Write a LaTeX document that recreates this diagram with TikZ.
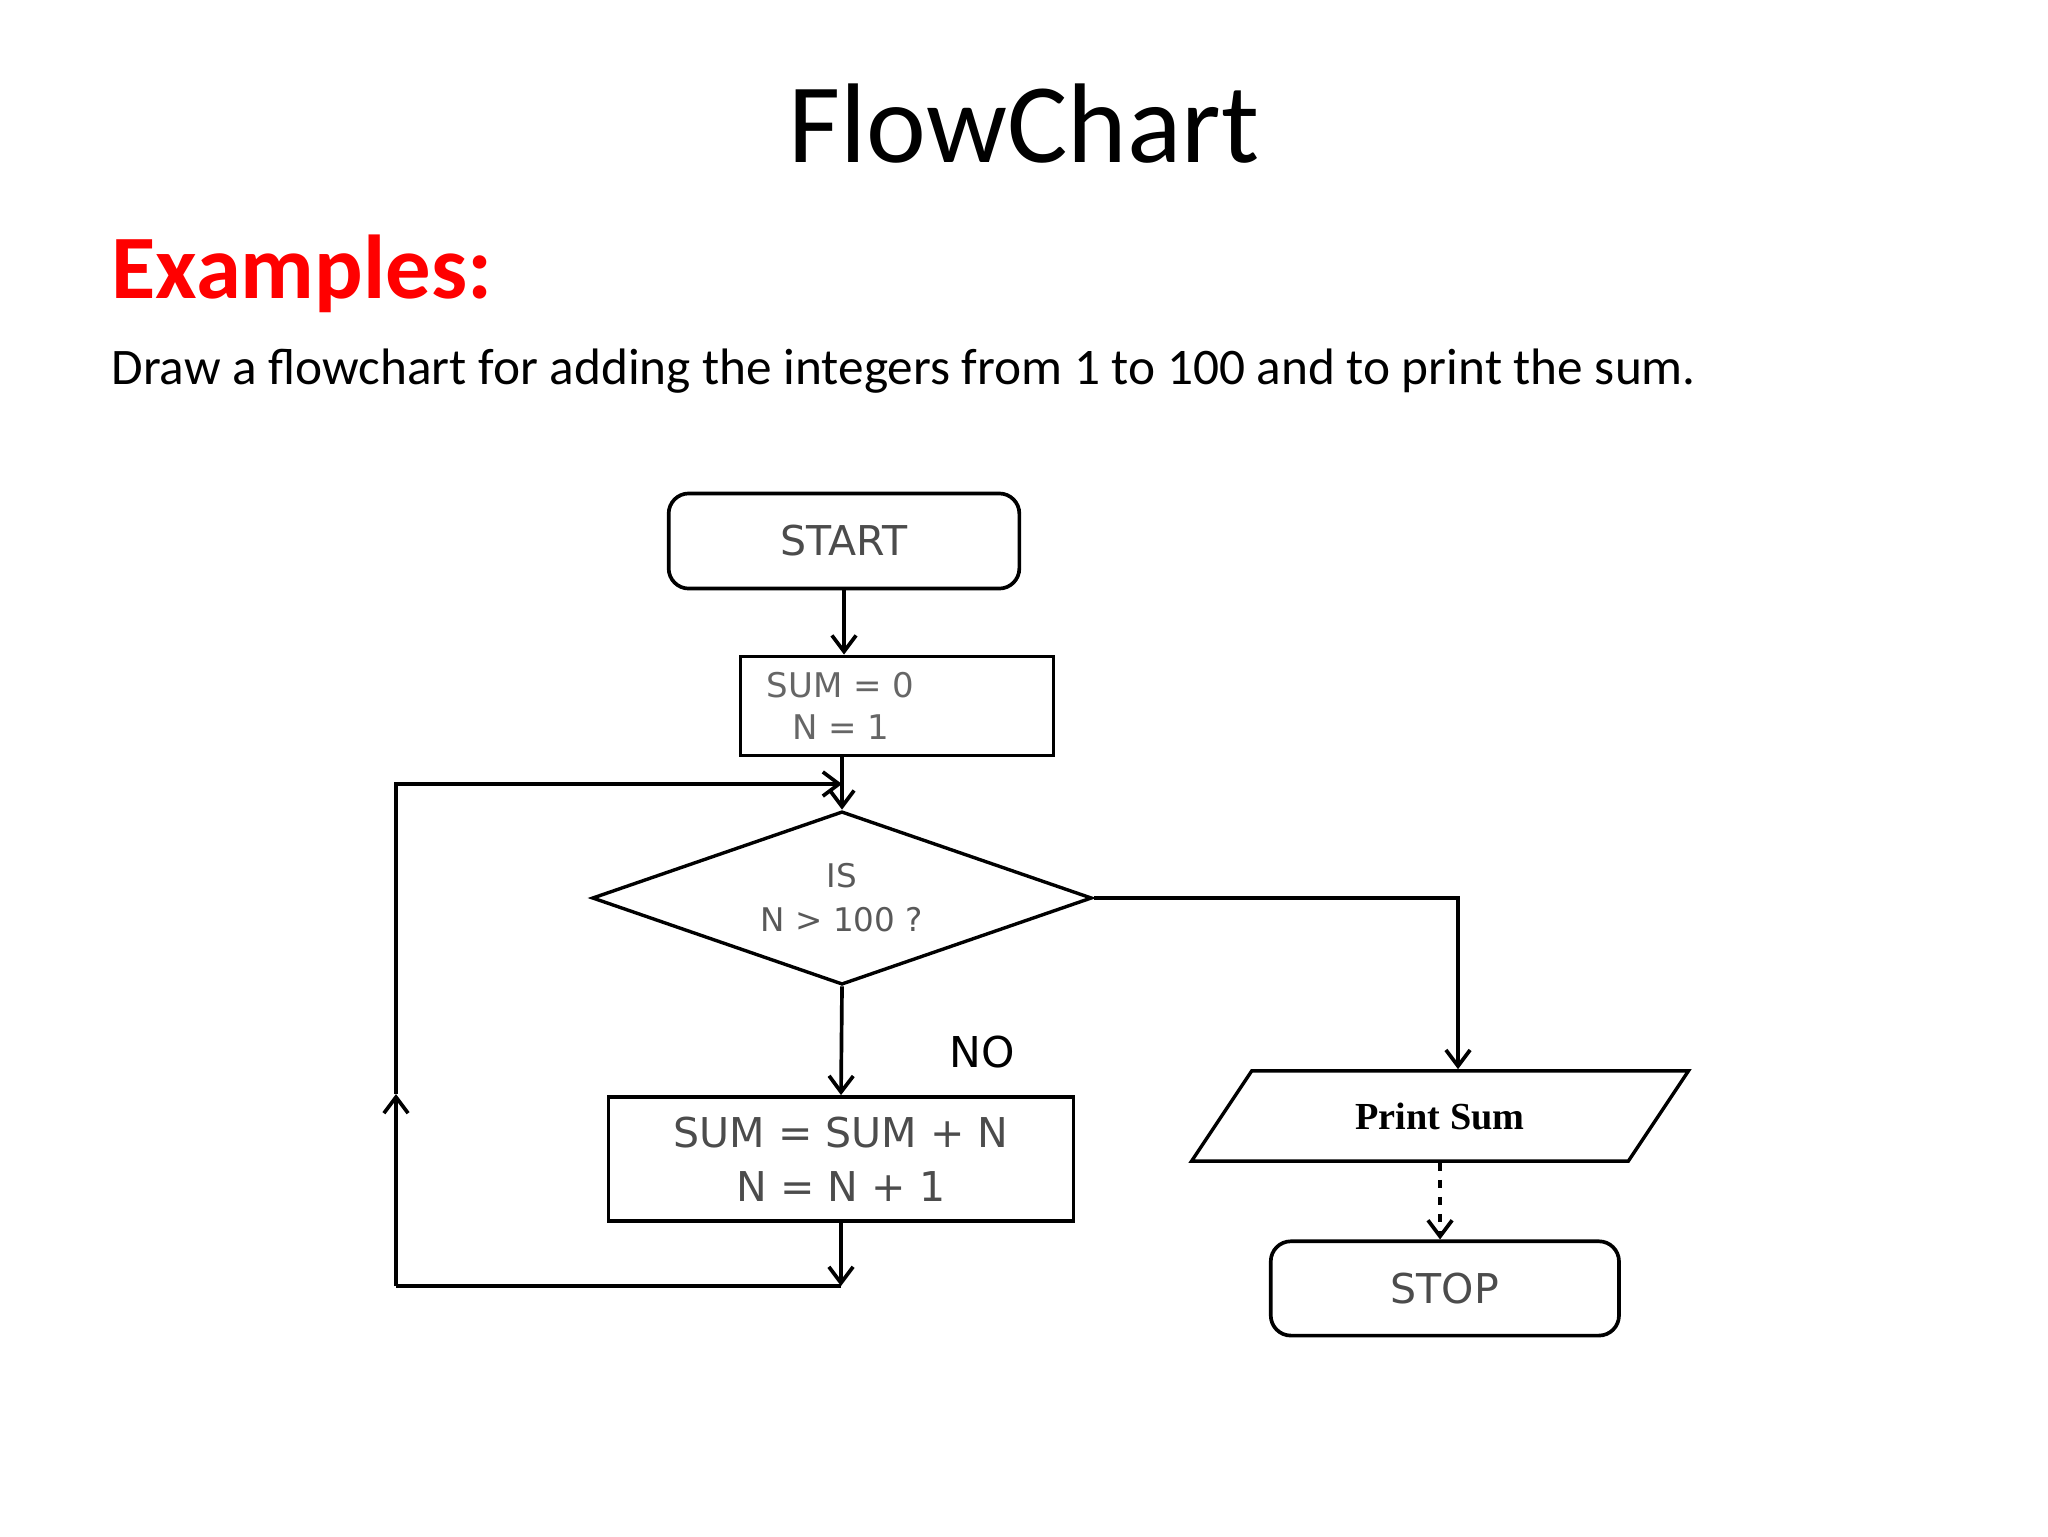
\documentclass[tikz,border=0pt]{standalone}
\usepackage{fontspec}
\setmainfont{Carlito}
\newfontfamily\boxfont{DejaVu Sans}
\newfontfamily\printfont{Liberation Serif}
\usepackage{tikz}
\usetikzlibrary{arrows.meta, positioning, shapes.geometric}

\begin{document}
\begin{tikzpicture}[
    x=0.0124cm, y=-0.0124cm,
    terminal/.style={
        draw,
        line width=1.3pt,
        rounded corners=0.25cm,
        inner sep=0pt,
        minimum width=4.35cm,
        minimum height=1.18cm,
        text=black!70,
        font=\boxfont\fontsize{14.5}{17}\selectfont
    },
    process/.style={
        draw,
        line width=1.3pt,
        inner sep=0pt,
        align=center,
        text=black!70
    },
    decision/.style={
        draw,
        diamond,
        aspect=2.9,
        line width=1.2pt,
        inner sep=0pt,
        align=center,
        minimum width=6.2cm,
        minimum height=2.15cm,
        text=black!65,
        font=\boxfont\fontsize{11.5}{15.5}\selectfont
    },
    io/.style={
        draw,
        trapezium,
        trapezium left angle=45,
        trapezium right angle=135,
        trapezium stretches=true,
        line width=1.2pt,
        inner sep=0pt,
        minimum width=6.17cm,
        minimum height=1.12cm,
        font=\printfont\bfseries\fontsize{13.5}{16}\selectfont
    },
    heading/.style={inner sep=0pt},
    arrow/.style={-{Straight Barb[length=2mm, width=3mm]}, line width=1.3pt}
]
\useasboundingbox (0,0) rectangle (2048,1536);

% heading
\node[heading, anchor=base, font=\fontsize{40}{48}\selectfont] (title) at (1024,163) {FlowChart};
\node[heading, anchor=base west, text=red, font=\bfseries\fontsize{32}{38}\selectfont] (examples) at (111,298) {Examples:};
\node[heading, anchor=base west, font=\fontsize{18.1}{22}\selectfont] (task) at (111,384)
    {Draw a flowchart for adding the integers from 1 to 100 and to print the sum.};

% flowchart
\node[terminal] (start) at (844,541) {START};
\node[process, minimum width=3.88cm, minimum height=1.23cm,
      label={[xshift=-0.7cm, align=center, text=black!60,
              font=\boxfont\fontsize{12}{15}\selectfont]center:SUM = 0\\N = 1}] (init) at (897,706) {};
\node[decision] (test) at (842,898) {IS\\N > 100 ?};
\node[process, minimum width=5.77cm, minimum height=1.54cm,
      font=\boxfont\fontsize{14.5}{19}\selectfont] (update) at (841,1159) {SUM = SUM + N\\N = N + 1};
\node[io] (print) at (1440,1116) {Print Sum};
\node[terminal, minimum width=4.32cm, minimum height=1.17cm, below=0.95cm of print.south, anchor=north,
      xshift=0.06cm] (stop) {STOP};

\coordinate (yescol) at (1458,0);
\coordinate (loopbot) at (841,1286);
\coordinate (loopcorner) at (396,1286);
\coordinate (loopmid) at (396,1094);
\coordinate (looptop) at (396,784);

\draw[arrow] (start.south) -- (start.south |- init.north);
\draw[arrow] (init.south -| test.north) -- (test.north);
\draw[arrow] (test.south) -- node[pos=0.6, right=1.2cm, font=\boxfont\fontsize{15}{18}\selectfont] (no) {NO} (update.north);
\draw[arrow] (test.east) -| (yescol |- print.north);
\draw[arrow, dashed] (print.south) -- (print.south |- stop.north);

% loop back
\draw[arrow] (update.south) -- (loopbot);
\draw[line width=1.3pt] (loopbot) -- (loopcorner);
\draw[arrow] (loopcorner) -- (loopmid);
\draw[arrow] (loopmid) -- (looptop) -- (looptop -| test.north);

\end{tikzpicture}
\end{document}
